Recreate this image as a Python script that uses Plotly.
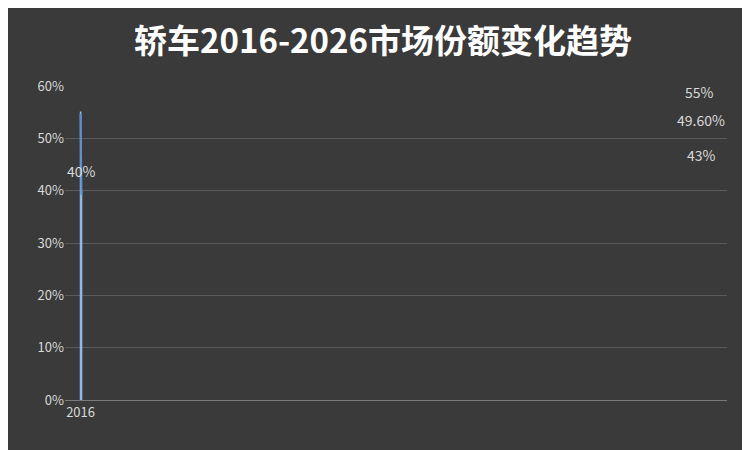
import numpy as np
import plotly.graph_objects as go

categories = ['2016', '2022', '2025', '2026一季度']
share = [55, 49.6, 43, 40]
labels = ['55%', '49.60%', '43%', '40%']

# linear trendline like excel
xs = np.arange(len(share))
k, b = np.polyfit(xs, share, 1)
trend = (k * xs + b).tolist()

fig = go.Figure()
fig.add_trace(go.Bar(
    x=categories, y=share, width=0.5,
    marker=dict(color='#4a86d0', line=dict(color='#8fb8ea', width=1.5)),
))
fig.add_trace(go.Scatter(
    x=categories, y=trend, mode='lines',
    line=dict(color='#5b8fd0', width=2), hoverinfo='skip',
))
for c, v, t in zip(categories, share, labels):
    fig.add_annotation(x=c, y=v, text=t, showarrow=False, yanchor='bottom', yshift=8,
                       font=dict(color='#d9d9d9', size=14))

fig.update_layout(
    width=750, height=450,
    paper_bgcolor='#3a3a3a', plot_bgcolor='rgba(0,0,0,0)',
    showlegend=False,
    font=dict(family='Noto Sans CJK SC, sans-serif', color='#d9d9d9', size=13),
    title=dict(text='<b>轿车2016-2026市场份额变化趋势</b>', x=0.5, y=0.925,
               xanchor='center', yanchor='middle', font=dict(size=33, color='white')),
    margin=dict(l=57, r=31, t=78, b=58),
)
fig.update_yaxes(range=[0, 60], dtick=10, ticksuffix='%', gridcolor='#5a5a5a',
                 zeroline=False, showline=False, tickfont=dict(color='#d9d9d9'))
fig.update_xaxes(showline=True, linecolor='#7a7a7a', tickfont=dict(color='#d9d9d9'))

fig.write_html('out.html')
